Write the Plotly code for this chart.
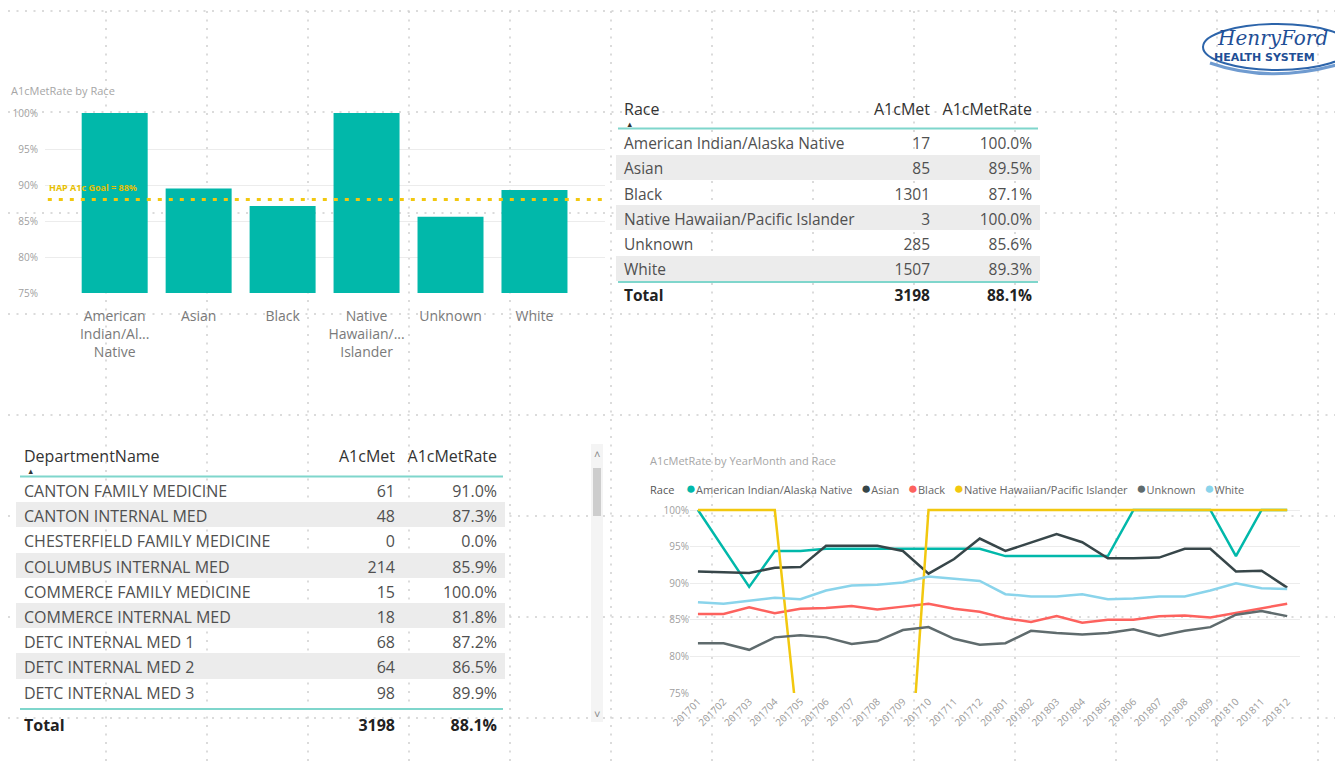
import plotly.graph_objects as go

W, H = 1335, 763
FONT = "Segoe UI, Open Sans, sans-serif"

# ---------------- data ----------------
races = ["American Indian/Alaska Native", "Asian", "Black",
         "Native Hawaiian/Pacific Islander", "Unknown", "White"]
race_axis_labels = ["American<br>Indian/Al...<br>Native", "Asian", "Black",
                    "Native<br>Hawaiian/...<br>Islander", "Unknown", "White"]
race_met = [17, 85, 1301, 3, 285, 1507]
race_rate = [100.0, 89.5, 87.1, 100.0, 85.6, 89.3]
total_met = 3198
total_rate = 88.1
goal_rate = 88
goal_label = "HAP A1c Goal = 88%"

departments = ["CANTON FAMILY MEDICINE", "CANTON INTERNAL MED",
               "CHESTERFIELD FAMILY MEDICINE", "COLUMBUS INTERNAL MED",
               "COMMERCE FAMILY MEDICINE", "COMMERCE INTERNAL MED",
               "DETC INTERNAL MED 1", "DETC INTERNAL MED 2", "DETC INTERNAL MED 3"]
dept_met = [61, 48, 0, 214, 15, 18, 68, 64, 98]
dept_rate = [91.0, 87.3, 0.0, 85.9, 100.0, 81.8, 87.2, 86.5, 89.9]

months = ["201701", "201702", "201703", "201704", "201705", "201706",
          "201707", "201708", "201709", "201710", "201711", "201712",
          "201801", "201802", "201803", "201804", "201805", "201806",
          "201807", "201808", "201809", "201810", "201811", "201812"]
rate_am_indian = [100, 94.7, 89.5, 94.4, 94.4, 94.7, 94.7, 94.7, 94.7, 94.7, 94.7, 94.7,
                  93.7, 93.7, 93.7, 93.7, 93.7, 100, 100, 100, 100, 93.7, 100, 100]
rate_asian = [91.6, 91.5, 91.4, 92.1, 92.2, 95.1, 95.1, 95.1, 94.4, 91.3, 93.3, 96.1,
              94.4, 95.6, 96.7, 95.6, 93.4, 93.4, 93.5, 94.7, 94.7, 91.6, 91.7, 89.4]
rate_black = [85.8, 85.8, 86.7, 85.9, 86.5, 86.6, 86.9, 86.4, 86.8, 87.2, 86.5, 86.1,
              85.2, 84.7, 85.5, 84.6, 85.0, 85.0, 85.5, 85.6, 85.3, 85.9, 86.6, 87.2]
rate_nhpi = [100, 100, 100, 100, 66.7, 66.7, 50, 50, 50, 100, 100, 100,
             100, 100, 100, 100, 100, 100, 100, 100, 100, 100, 100, 100]
rate_unknown = [81.8, 81.8, 80.9, 82.6, 82.9, 82.6, 81.7, 82.1, 83.6, 84.0, 82.4, 81.6,
                81.8, 83.5, 83.2, 83.0, 83.2, 83.7, 82.8, 83.5, 84.0, 85.7, 86.2, 85.5]
rate_white = [87.4, 87.2, 87.6, 88.0, 87.8, 89.0, 89.7, 89.8, 90.1, 90.9, 90.6, 90.3,
              88.5, 88.2, 88.2, 88.5, 87.8, 87.9, 88.2, 88.2, 89.0, 90.0, 89.3, 89.2]
race_series = [rate_am_indian, rate_asian, rate_black, rate_nhpi, rate_unknown, rate_white]
race_colors = ["#01B8AA", "#374649", "#FD625E", "#F2C80F", "#5F6B6D", "#8AD4EB"]
pct_ticks = [75, 80, 85, 90, 95, 100]
pct_tick_labels = [f"{v}%" for v in pct_ticks]


def px(x):
    return x / W


def py(y):
    return 1 - y / H


fig = go.Figure()

# ---------------- bar chart ----------------
fig.add_trace(go.Bar(x=races, y=race_rate, marker=dict(color="#01B8AA", line=dict(width=0)),
                     xaxis="x", yaxis="y", hoverinfo="x+y", showlegend=False))

# ---------------- line chart ----------------
for name, vals, col in zip(races, race_series, race_colors):
    fig.add_trace(go.Scatter(x=months, y=vals, mode="lines", name=name,
                             line=dict(color=col, width=2.5),
                             xaxis="x2", yaxis="y2", showlegend=False))

# ---------------- tables ----------------
band = "#ececec"
clear = "rgba(0,0,0,0)"
HEAD = 16
no_line = dict(width=0, color=clear)
race_widths = [256, 66, 102]
dept_widths = [314, 73, 102]


def footer_table(xdom, top, widths, size):
    return go.Table(
        domain=dict(x=xdom, y=[py(763), py(top)]),
        columnwidth=widths,
        header=dict(values=["<b>Total</b>", f"<b>{total_met}</b>", f"<b>{total_rate:.1f}%</b>"],
                    align=["left", "right", "right"],
                    font=dict(family=FONT, size=size, color="#222222"), height=26,
                    fill=dict(color=clear), line=no_line),
        cells=dict(values=[[], [], []], height=1, fill=dict(color=clear), line=no_line))


race_fill = [band if i % 2 == 1 else clear for i in range(len(races))]
fig.add_trace(go.Table(
    domain=dict(x=[px(616), px(1040)], y=[py(290), py(95)]),
    columnwidth=race_widths,
    header=dict(values=["Race", "A1cMet", "A1cMetRate"], align=["left", "right", "right"],
                font=dict(family=FONT, size=HEAD, color="#333333"), height=34.5,
                fill=dict(color=clear), line=no_line),
    cells=dict(values=[races, [str(v) for v in race_met], [f"{v:.1f}%" for v in race_rate]],
               align=["left", "right", "right"],
               font=dict(family=FONT, size=15.5, color="#505050"), height=25.2,
               fill=dict(color=[race_fill] * 3), line=no_line)))
fig.add_trace(footer_table([px(616), px(1040)], 276, race_widths, 15.5))

dept_fill = [band if i % 2 == 1 else clear for i in range(len(departments))]
fig.add_trace(go.Table(
    domain=dict(x=[px(16), px(505)], y=[py(706), py(442)]),
    columnwidth=dept_widths,
    header=dict(values=["DepartmentName", "A1cMet", "A1cMetRate"], align=["left", "right", "right"],
                font=dict(family=FONT, size=HEAD, color="#333333"), height=35,
                fill=dict(color=clear), line=no_line),
    cells=dict(values=[departments, [str(v) for v in dept_met], [f"{v:.1f}%" for v in dept_rate]],
               align=["left", "right", "right"],
               font=dict(family=FONT, size=16, color="#505050"), height=25.2,
               fill=dict(color=[dept_fill] * 3), line=no_line)))
fig.add_trace(footer_table([px(16), px(505)], 706, dept_widths, 16))

shapes = []
# canvas dotted grid
for gx in range(106, W, 101):
    shapes.append(dict(type="line", xref="paper", yref="paper", x0=px(gx), x1=px(gx), y0=py(11), y1=py(763),
                       line=dict(color="#cfcfcf", width=1.5, dash="2px,6.5px"), layer="below"))
for gy in range(11, H, 101):
    shapes.append(dict(type="line", xref="paper", yref="paper", x0=px(8), x1=px(W), y0=py(gy), y1=py(gy),
                       line=dict(color="#cfcfcf", width=1.5, dash="2px,6.5px"), layer="below"))

# goal line
shapes.append(dict(type="line", xref="x domain", yref="y", x0=0.005, x1=0.995, y0=goal_rate, y1=goal_rate,
                   line=dict(color="#F2C80F", width=3, dash="4px,7px"), layer="above"))

# table rules
teal_rule = "#7fd6cc"
for (x0, x1, y) in [(618, 1038, 128.5), (618, 1038, 282), (20, 503, 476.5), (20, 503, 709)]:
    shapes.append(dict(type="line", xref="paper", yref="paper", x0=px(x0), x1=px(x1), y0=py(y), y1=py(y),
                       line=dict(color=teal_rule, width=2), layer="above"))

# scrollbar
shapes.append(dict(type="rect", xref="paper", yref="paper", x0=px(591), x1=px(603), y0=py(722), y1=py(444),
                   fillcolor="#f4f4f4", line=dict(width=0), layer="above"))
shapes.append(dict(type="rect", xref="paper", yref="paper", x0=px(593), x1=px(601), y0=py(516), y1=py(468),
                   fillcolor="#cdcdcd", line=dict(width=0), layer="above"))

# logo ovals
shapes.append(dict(type="circle", xref="paper", yref="paper", x0=px(1203), x1=px(1352), y0=py(70), y1=py(24),
                   line=dict(color="#2c64aa", width=2), layer="above"))
shapes.append(dict(type="path", xref="paper", yref="paper",
                   path=f"M {px(1210)},{py(63)} Q {px(1270)},{py(84)} {px(1340)},{py(64)}",
                   line=dict(color="#6f9bd0", width=3), layer="above"))

annotations = []


def ann(text, x, y, size, color, xanchor="left", yanchor="middle", **kw):
    annotations.append(dict(text=text, x=px(x), y=py(y), xref="paper", yref="paper",
                            xanchor=xanchor, yanchor=yanchor, showarrow=False,
                            font=dict(family=kw.pop("family", FONT), size=size, color=color), **kw))


ann("A1cMetRate by Race", 9, 91, 11, "#a6a6a6")
ann(f"<b>{goal_label}</b>", 47, 187, 9, "#E8BF00")
ann("A1cMetRate by YearMonth and Race", 648, 460, 11, "#a6a6a6")

sp = "\u00a0"
legend_parts = [f"<span style='color:#555555'>Race</span>{sp * 4}"]
for r, c in zip(races, race_colors):
    legend_parts.append(f"<span style='color:{c};font-size:17px'>\u25CF</span>{r}{sp * 3}")
ann("".join(legend_parts), 648, 487, 11, "#666666")

ann("\u25B2", 629, 124, 7.5, "#333333", xanchor="center")
ann("\u25B2", 31, 471, 7.5, "#333333", xanchor="center")
ann("\u02C4", 597, 454, 11, "#888888", xanchor="center")
ann("\u02C5", 597, 713, 11, "#888888", xanchor="center")

ann("<i>HenryFord</i>", 1272, 38, 20, "#1f4f96", xanchor="center", family="DejaVu Serif")
ann("<b>HEALTH SYSTEM</b>", 1212, 57, 11, "#1f4f96", family="DejaVu Sans")

fig.update_layout(
    width=W, height=H, autosize=False,
    margin=dict(l=0, r=0, t=0, b=0, pad=0),
    paper_bgcolor="white", plot_bgcolor="rgba(0,0,0,0)",
    font=dict(family=FONT),
    showlegend=False,
    bargap=0.214,
    xaxis=dict(domain=[px(45), px(605)], range=[-0.83, 5.84], tickvals=races, ticktext=race_axis_labels,
               tickfont=dict(size=14, color="#7a7a7a"), showgrid=False, showline=False, zeroline=False,
               ticks="", ticklabelstandoff=13, automargin=False, fixedrange=True),
    yaxis=dict(domain=[py(293), py(113)], range=[75, 100], tickvals=pct_ticks, ticktext=pct_tick_labels,
               tickfont=dict(size=10, color="#a0a0a0"), gridcolor="#ececec", gridwidth=1,
               showline=False, zeroline=False, ticks="", ticklabelstandoff=6,
               automargin=False, fixedrange=True),
    xaxis2=dict(domain=[px(690), px(1300)], range=[-0.31, 23.5], anchor="y2", type="category",
                tickangle=-45, tickfont=dict(size=10, color="#9a9a9a"), showgrid=False,
                showline=False, zeroline=False, ticks="", automargin=False, fixedrange=True),
    yaxis2=dict(domain=[py(693), py(507)], range=[75, 100.41], anchor="x2", tickvals=pct_ticks,
                ticktext=pct_tick_labels, tickfont=dict(size=10, color="#a0a0a0"), gridcolor="#ececec",
                gridwidth=1, showline=False, zeroline=False, ticks="", automargin=False, fixedrange=True),
    shapes=shapes, annotations=annotations,
)

fig.write_html("out.html", include_plotlyjs=True, config={"displayModeBar": False},
               post_script="document.body.style.margin='0';document.body.style.overflow='hidden';")
